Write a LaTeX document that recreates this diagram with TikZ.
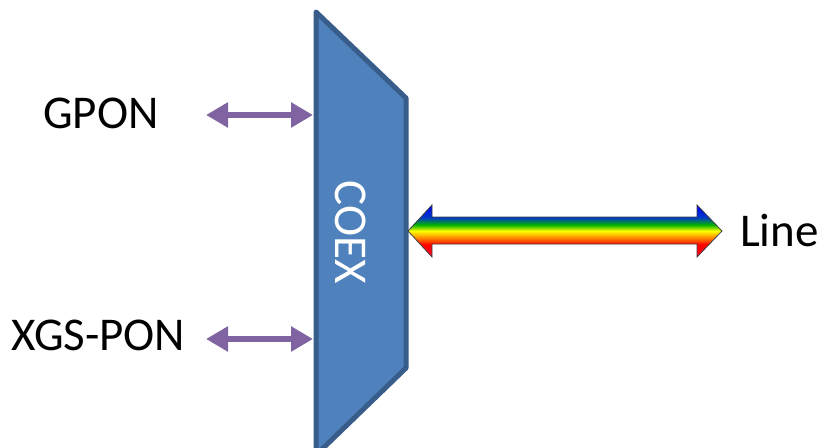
\documentclass[tikz,border=0pt]{standalone}
\usepackage{fontspec}
\setmainfont{Carlito}
\usetikzlibrary{arrows.meta}

\definecolor{coexfill}{HTML}{4F81BD}
\definecolor{coexline}{HTML}{385D8A}
\definecolor{portpurple}{HTML}{8064A2}
% vertical rainbow, red at the bottom, blue on top
\pgfdeclareverticalshading{rainbow}{100bp}{color(0bp)=(red); color(25bp)=(red!85!magenta); color(37bp)=(red); color(43bp)=(orange); color(50bp)=(yellow); color(56bp)=(green!70!black); color(63bp)=(blue!55!teal); color(75bp)=(blue); color(100bp)=(blue)}

\begin{document}
\begin{tikzpicture}[x=1pt,y=-1pt,
	txt/.style={font=\fontsize{47}{50}\selectfont,inner sep=0pt},
	biarrow/.style={portpurple,line width=6.5pt,{Triangle[width=24pt,length=22pt]}-{Triangle[width=24pt,length=22pt]}}]
	  \useasboundingbox (0,0) rectangle (819,447);   % page size

	  % the coexistence element
	  \coordinate (tl) at (316,12);
	  \coordinate (tr) at (406,98);
	  \coordinate (br) at (406,368);
	  \coordinate (bl) at (316,455);
	  \draw[coexline,fill=coexfill,line width=5pt,line join=round] (tl) -- (tr) -- (br) -- (bl) -- cycle;
	  \node[txt,white,rotate=-90] (coex) at (351,232) {COEX};

	  % ports on the left
	  \node[txt,anchor=base west] (gpon) at (43,128) {GPON};
	  \node[txt,anchor=base west] (xgs) at (11,350) {XGS-PON};
	  \coordinate (gponA) at (206,115);
	  \coordinate (gponB) at (313,115);
	  \coordinate (xgsA) at (206,339);
	  \coordinate (xgsB) at (313,339);
	  \draw[biarrow] (gponA) -- (gponB);
	  \draw[biarrow] (xgsA) -- (xgsB);

	  % line side
	  \node[txt,anchor=base west] (line) at (740,246) {Line};
	  \coordinate (lt) at (408,231);   % left tip
	  \coordinate (rt) at (722,231);   % right tip
	  \shade[shading=rainbow,draw=black!75,line width=0.8pt,line join=miter]
	    (lt) -- (432,205) -- (432,217) -- (697,217) -- (697,205) -- (rt)
	    -- (697,257) -- (697,244) -- (432,244) -- (432,257) -- cycle;

	\end{tikzpicture}
\end{document}
